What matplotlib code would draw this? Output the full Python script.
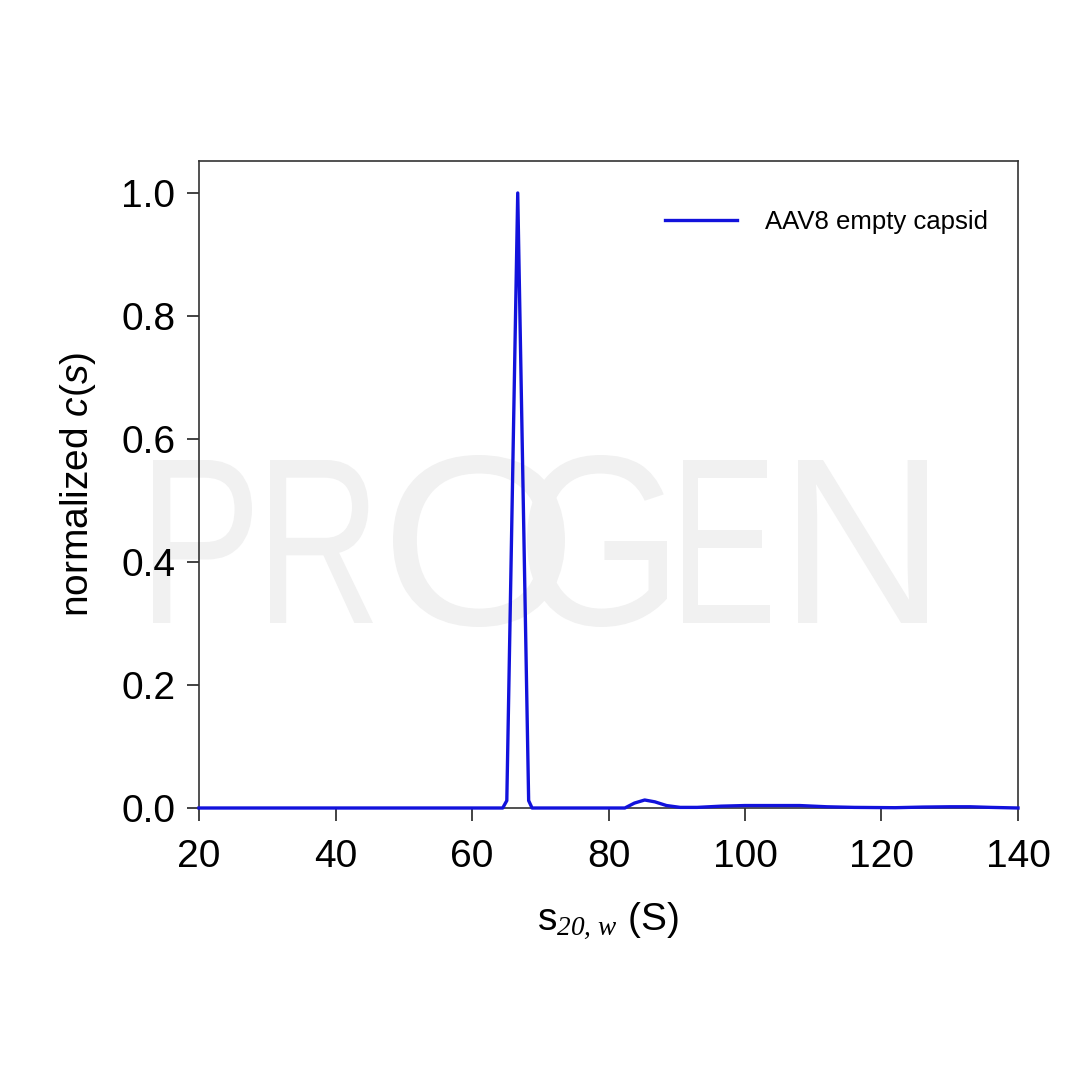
import matplotlib
matplotlib.use("Agg")
from matplotlib import pyplot as plt
from matplotlib.textpath import TextPath
from matplotlib.patches import PathPatch
from matplotlib.font_manager import FontProperties
from matplotlib.transforms import Affine2D, IdentityTransform

plt.rcParams['font.family'] = ['Liberation Sans', 'DejaVu Sans']
plt.rcParams['mathtext.fontset'] = 'custom'
plt.rcParams['mathtext.rm'] = 'Liberation Sans'
plt.rcParams['mathtext.it'] = 'Liberation Serif:italic'
plt.rcParams['mathtext.cal'] = 'Liberation Serif:italic'
plt.rcParams['mathtext.sf'] = 'Liberation Sans:italic'

# c(s) distribution
s20w = [20, 64.5, 65.1, 66.7, 68.3, 68.8, 80, 82.4, 83.8, 85.3, 86.8, 88.5,
        90.5, 93, 96.5, 100, 104, 108, 112, 116, 122, 126, 130, 133, 136, 140]
cs = [0, 0, 0.012, 1.0, 0.012, 0, 0, 0, 0.008, 0.013, 0.010, 0.004,
      0.001, 0.001, 0.003, 0.004, 0.004, 0.004, 0.002, 0.001, 0.0005, 0.0015,
      0.002, 0.002, 0.001, 0]
series_name = 'AAV8 empty capsid'
xticks = [20, 40, 60, 80, 100, 120, 140]
yticks = [0.0, 0.2, 0.4, 0.6, 0.8, 1.0]

W = H = 1080
fig = plt.figure(figsize=(10.8, 10.8), dpi=100)

# watermark, one letter at a time (pixel boxes: x0, x1, top, bottom)
wm = [('P', 153, 252, 460, 623), ('R', 270, 373, 460, 623),
      ('O', 393, 565, 455, 627), ('G', 527, 667, 455, 627),
      ('E', 683, 770, 460, 623), ('N', 798, 927, 460, 623)]
fp = FontProperties(family='Liberation Sans')
for ch, x0, x1, yt, yb in wm:
    tp = TextPath((0, 0), ch, size=100, prop=fp)
    bb = tp.get_extents()
    tr = (Affine2D().translate(-bb.x0, -bb.y0)
          .scale((x1 - x0) / bb.width, (yb - yt) / bb.height)
          .translate(x0, H - yb))
    p = PathPatch(tr.transform_path(tp), facecolor='#f1f1f1', edgecolor='none',
                  transform=IdentityTransform(), zorder=-1)
    fig.add_artist(p)

ax = fig.add_axes([199 / W, 1 - 808 / H, 819 / W, 647 / H])
ax.set_facecolor('none')
ax.plot(s20w, cs, color='#1212dc', lw=2.4, label=series_name, clip_on=False, zorder=3)

ax.set_xlim(20, 140)
ax.set_ylim(0, 1.052)
ax.set_xticks(xticks)
ax.set_yticks(yticks)
ax.set_yticklabels(['%.1f' % v for v in yticks])
ax.tick_params(direction='out', length=9, width=1.2, colors='#222222',
               labelsize=28, pad=8, labelcolor='black')
ax.tick_params(axis='x', pad=13)
for sp in ax.spines.values():
    sp.set_color('#333333')
    sp.set_linewidth(1.2)

ax.set_xlabel(r'$\mathrm{s}_{\mathcal{20,\,w}}$ (S)', fontsize=28, labelpad=18)
ax.set_ylabel(r'normalized $\mathsf{c}$($\mathsf{s}$)', fontsize=28, labelpad=17)

ax.legend(frameon=False, fontsize=18.5, handlelength=2.8, handletextpad=1.1,
          borderpad=0, borderaxespad=0, loc='center left',
          bbox_to_anchor=((665 - 199) / 819, (808 - 222) / 647))

fig.savefig('out.png', dpi=100)
